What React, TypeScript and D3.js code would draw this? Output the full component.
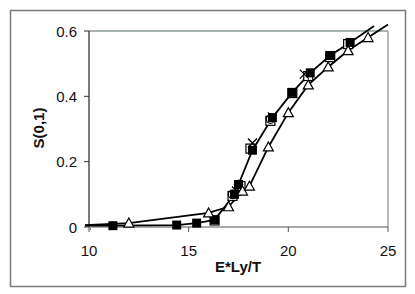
import React from "react";
import * as d3 from "d3";

// Series A: filled squares (with line)
const xA = [9.8, 11.2, 14.4, 15.4, 16.3, 17.3, 17.5, 18.2, 19.2, 20.2, 21.1, 22.1, 23.1, 24.3];
const yA = [0.004, 0.004, 0.006, 0.012, 0.022, 0.1, 0.13, 0.235, 0.335, 0.412, 0.472, 0.525, 0.565, 0.615];
// Series B: open squares
const xB = [16.3, 17.2, 17.6, 18.1, 19.1, 20.2, 21.0, 22.1, 23.0];
const yB = [0.02, 0.095, 0.125, 0.24, 0.325, 0.41, 0.462, 0.52, 0.56];
// Series C: crosses
const xC = [17.4, 18.2, 19.2, 20.8, 22.1];
const yC = [0.11, 0.257, 0.337, 0.468, 0.525];
// Series D: open circles
const xD = [17.2, 17.5, 19.1];
const yD = [0.1, 0.13, 0.33];
// Series T: open triangles (with line)
const xT = [9.8, 12.0, 16.0, 17.0, 17.7, 18.05, 19.0, 20.0, 21.0, 22.0, 23.0, 24.0, 25.0];
const yT = [0.006, 0.012, 0.043, 0.062, 0.11, 0.125, 0.245, 0.35, 0.435, 0.49, 0.54, 0.58, 0.62];

const xTicks = [10, 15, 20, 25];
const yTicks = [0, 0.2, 0.4, 0.6];
const yTickLabels = ["0", "0.2", "0.4", "0.6"];

export default function App() {
  const W = 415, H = 294;
  const L = 89, R = 388, T = 31, B = 227;
  const x = d3.scaleLinear().domain([10, 25]).range([L, R]);
  const y = d3.scaleLinear().domain([0, 0.6]).range([B, T]);
  const line = d3.line<[number, number]>().x(d => x(d[0])).y(d => y(d[1]));
  const ptsA = xA.map((v, i) => [v, yA[i]] as [number, number]);
  const ptsT = xT.map((v, i) => [v, yT[i]] as [number, number]);
  const font = "'Liberation Sans', Arial, sans-serif";
  const s = 4.5;
  return (
    <svg width={W} height={H} style={{ position: "absolute", left: 0, top: 0, background: "#fff" }}>
      <defs>
        <clipPath id="plot">
          <rect x={L + 1} y={T} width={R - L + 6} height={B - T + 6} />
        </clipPath>
      </defs>
      <rect x={10.5} y={10.5} width={395} height={276} fill="#fff" stroke="#7a7a7a" strokeWidth={1.5} />
      {/* plot border top/right */}
      <line x1={L} y1={T} x2={R} y2={T} stroke="#8a9a9a" strokeWidth={1.3} />
      <line x1={R} y1={T} x2={R} y2={B} stroke="#8a9a9a" strokeWidth={1.3} />
      {/* axes */}
      <line x1={L} y1={T} x2={L} y2={B} stroke="#222" strokeWidth={1.2} />
      <line x1={L} y1={B} x2={R} y2={B} stroke="#555" strokeWidth={1.2} />
      {yTicks.map((t, i) => (
        <g key={"y" + i}>
          <line x1={L - 5} x2={L} y1={y(t)} y2={y(t)} stroke="#333" />
          <text x={77} y={y(t) + 5.5} textAnchor="end" fontFamily={font} fontSize={15} fill="#111">{yTickLabels[i]}</text>
        </g>
      ))}
      {xTicks.map((t, i) => (
        <g key={"x" + i}>
          <line x1={x(t)} x2={x(t)} y1={B} y2={B + 5} stroke="#555" />
          <text x={x(t)} y={256} textAnchor="middle" fontFamily={font} fontSize={15} fill="#111">{t}</text>
        </g>
      ))}
      <text x={238} y={272} textAnchor="middle" fontFamily={font} fontSize={15} fontWeight="bold" fill="#111">E*Ly/T</text>
      <text transform="translate(44,128) rotate(-90)" textAnchor="middle" fontFamily={font} fontSize={15} fontWeight="bold" fill="#111">S(0,1)</text>
      {/* lines */}
      <path d={line(ptsA) || ""} fill="none" stroke="#000" strokeWidth={1.8} />
      <path d={line(ptsT) || ""} fill="none" stroke="#000" strokeWidth={1.8} />
      <g clipPath="url(#plot)">
        {xB.map((v, i) => (
          <rect key={"b" + i} x={x(v) - s} y={y(yB[i]) - s} width={2 * s} height={2 * s} fill="#fff" stroke="#000" strokeWidth={1.2} />
        ))}
        {xA.map((v, i) => (
          <rect key={"a" + i} x={x(v) - s} y={y(yA[i]) - s} width={2 * s} height={2 * s} fill="#000" />
        ))}
        {xD.map((v, i) => (
          <circle key={"d" + i} cx={x(v)} cy={y(yD[i])} r={4.2} fill="none" stroke="#000" strokeWidth={1.2} />
        ))}
        {xC.map((v, i) => {
          const cx = x(v), cy = y(yC[i]);
          return (
            <path key={"c" + i} d={`M${cx - 4.5},${cy - 4.5}L${cx + 4.5},${cy + 4.5}M${cx - 4.5},${cy + 4.5}L${cx + 4.5},${cy - 4.5}`} stroke="#000" strokeWidth={1.3} />
          );
        })}
        {xT.map((v, i) => {
          const cx = x(v), cy = y(yT[i]);
          return (
            <path key={"t" + i} d={`M${cx},${cy - 5}L${cx + 5},${cy + 4}L${cx - 5},${cy + 4}Z`} fill="#fff" stroke="#000" strokeWidth={1.2} />
          );
        })}
      </g>
    </svg>
  );
}
